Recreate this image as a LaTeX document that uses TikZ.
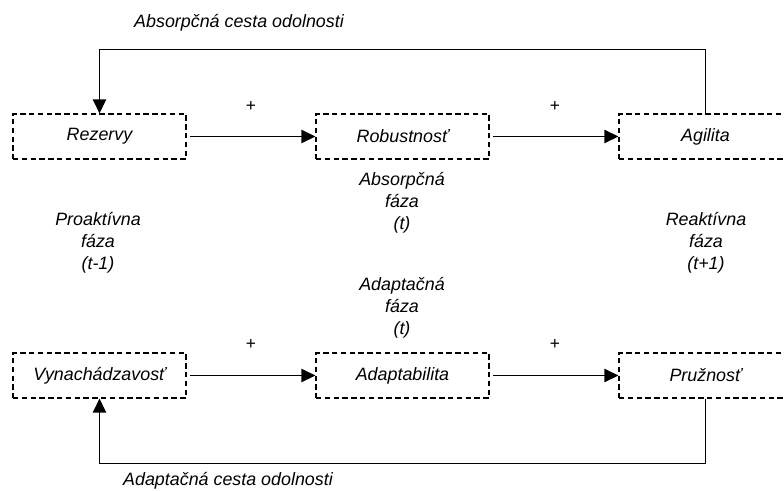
\documentclass[tikz,border=0pt]{standalone}
\usepackage{fontspec}
\setmainfont{Liberation Sans}
\usetikzlibrary{arrows.meta,positioning}

\begin{document}
\begin{tikzpicture}
    [
        x=0.75pt, y=0.75pt,
        every node/.style={font=\fontsize{13.4}{16.5}\selectfont\itshape},
        phase/.style={rectangle, draw, dash pattern=on 4pt off 2.6pt, line width=0.9pt, minimum width=129.75pt, minimum height=33.75pt, inner sep=0pt},
        link/.style={-{Triangle[length=10.5pt,width=10pt]}, line width=1pt},
        note/.style={align=center},
        sign/.style={font=\fontsize{13}{15}\selectfont\upshape},
    ]
    \useasboundingbox (0,0) rectangle (784,490);

    \node[phase] (Rez) at (99.5, 353.5) {Rezervy};
    \node[phase] (Rob) at (402.5, 353.5) {Robustnosť};
    \node[phase] (Agi) at (705.5, 353.5) {Agilita};
    \node[phase] (Vyn) at (99.5, 114.5) {Vynachádzavosť};
    \node[phase] (Ada) at (402.5, 114.5) {Adaptabilita};
    \node[phase] (Pru) at (705.5, 114.5) {Pružnosť};

    \draw[link, shorten <=2.25pt] (Rez) -- (Rob);
    \draw[link, shorten <=2.25pt] (Rob) -- (Agi);
    \draw[link, shorten <=2.25pt] (Vyn) -- (Ada);
    \draw[link, shorten <=2.25pt] (Ada) -- (Pru);

    \draw[link] (Agi.north) -- ++(0,64) -| (Rez.north);
    \draw[link] (Pru.south) -- ++(0,-65) -| (Vyn.south);

    \node[sign] (plusA) at (251, 384) {+};
    \node[sign] (plusB) at (555, 384) {+};
    \node[sign] (plusC) at (251, 146) {+};
    \node[sign] (plusD) at (555, 146) {+};

    \node (pathA) at (239, 467) {Absorpčná cesta odolnosti};
    \node (pathB) at (228, 9) {Adaptačná cesta odolnosti};

    \node[note] (proact) at (98, 247) {Proaktívna\\fáza\\(t-1)};
    \node[note] (absorb) at (402, 287) {Absorpčná\\fáza\\(t)};
    \node[note] (adapt) at (402, 182) {Adaptačná\\fáza\\(t)};
    \node[note] (react) at (706, 247) {Reaktívna\\fáza\\(t+1)};
\end{tikzpicture}
\end{document}
